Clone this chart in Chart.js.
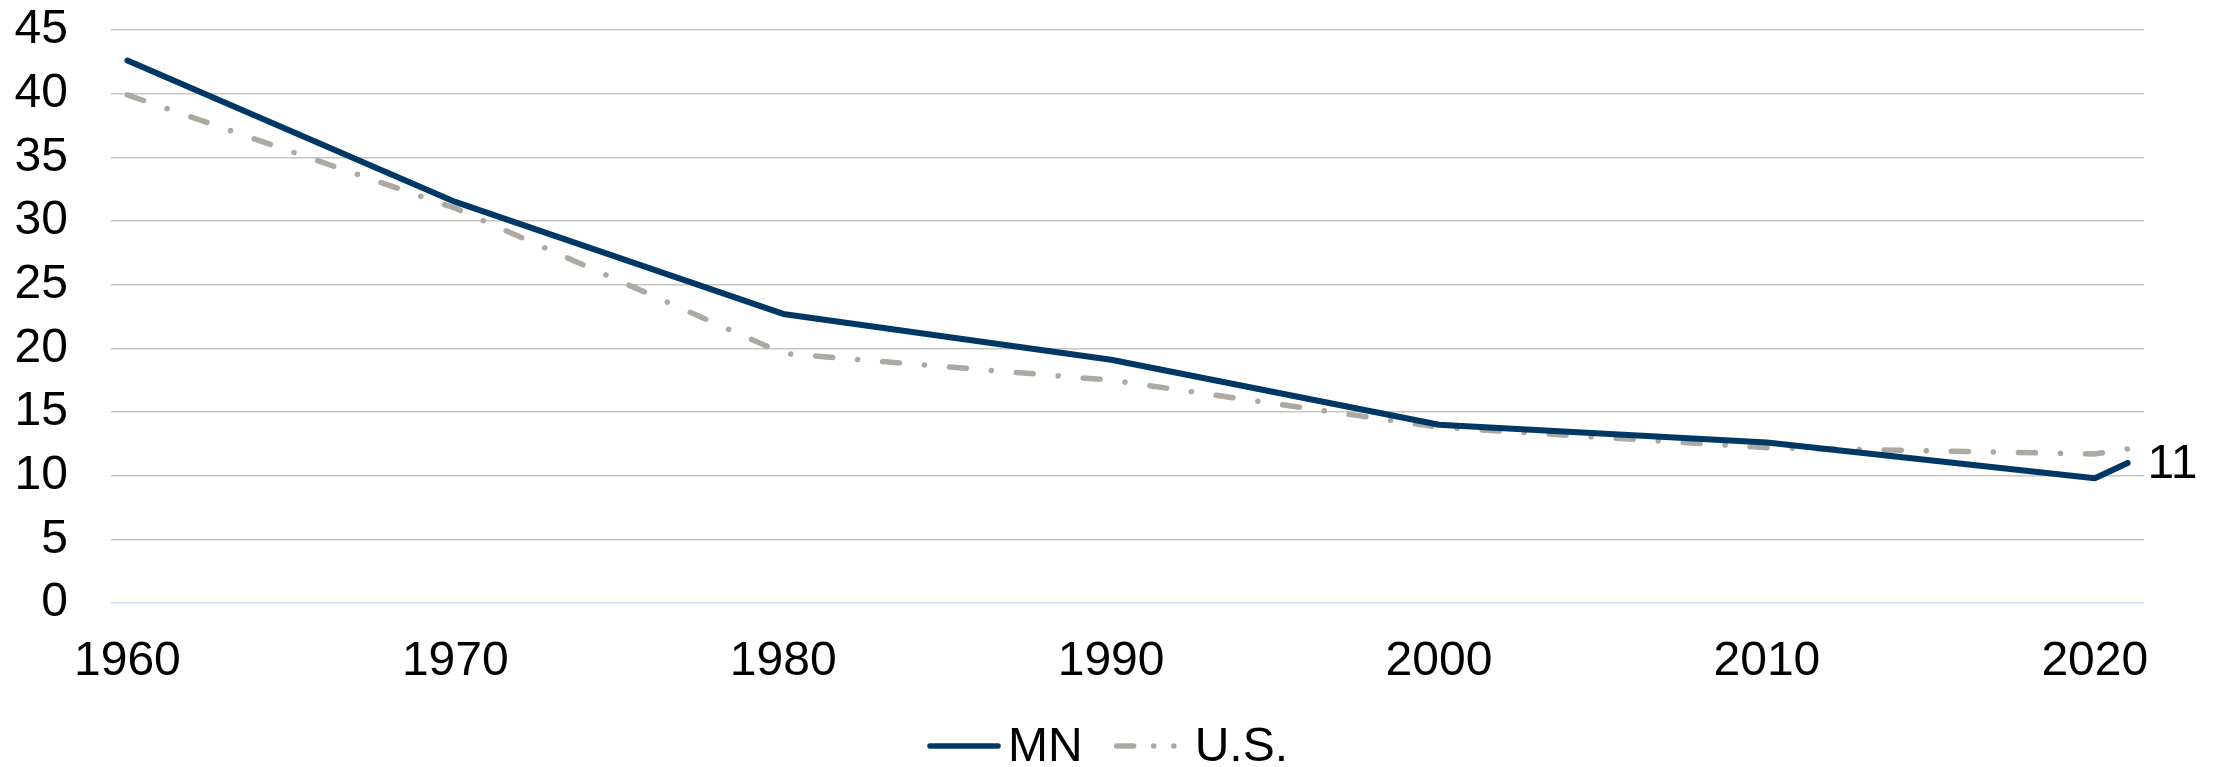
<!DOCTYPE html>
<html>
<head>
<meta charset="utf-8">
<script src="https://cdn.jsdelivr.net/npm/chart.js@4.4.0/dist/chart.umd.min.js"></script>
<style>
  html, body { margin: 0; padding: 0; background: #fff; }
  #wrap { width: 2224px; height: 767px; position: relative; }
</style>
</head>
<body>
<div id="wrap"><canvas id="chart"></canvas></div>
<script>
// Data
const years = [1960, 1970, 1980, 1990, 2000, 2010, 2020, 2021];
const mnValues = [42.6, 31.5, 22.7, 19.1, 14.0, 12.6, 9.8, 11.0];
const usValues = [39.9, 31.0, 19.6, 17.5, 13.8, 12.2, 11.7, 12.1];
const xTicks = [1960, 1970, 1980, 1990, 2000, 2010, 2020];
const yTicks = [0, 5, 10, 15, 20, 25, 30, 35, 40, 45];
const seriesNames = ['MN', 'U.S.'];

const FONT = 'Liberation Sans, Arial, sans-serif';
const FONT_SIZE = 48;
const NAVY = '#003865';
const GREY = '#ABA9A1';
const usDash = [17, 25, 0.1, 25];

// Label for the last MN point ("11")
const endLabel = {
  id: 'endLabel',
  afterDatasetsDraw(chart) {
    const { ctx, scales: { x, y } } = chart;
    const i = years.length - 1;
    const px = x.getPixelForValue(years[i]);
    const py = y.getPixelForValue(mnValues[i]);
    ctx.save();
    ctx.font = FONT_SIZE + 'px ' + FONT;
    ctx.fillStyle = '#000';
    ctx.textAlign = 'left';
    ctx.textBaseline = 'middle';
    ctx.fillText(Math.round(mnValues[i]).toString(), px + 20, py + 2);
    ctx.restore();
  },
};

// Legend drawn by hand so the spacing matches (short gap line->text, wider gap between items)
const bottomLegend = {
  id: 'bottomLegend',
  afterDraw(chart) {
    const { ctx, width, height } = chart;
    const lineW = 72, gapText = 8, gapItem = 32;
    ctx.save();
    ctx.font = FONT_SIZE + 'px ' + FONT;
    const widths = seriesNames.map(t => ctx.measureText(t).width);
    const total = widths.reduce((a, b) => a + b, 0) + seriesNames.length * (lineW + gapText) + gapItem;
    let x = width / 2 - total / 2 - 4;
    const lineY = height - 21;
    const textY = height - 6;
    chart.data.datasets.forEach((ds, i) => {
      ctx.strokeStyle = ds.borderColor;
      ctx.lineWidth = 5.5;
      ctx.lineCap = 'round';
      ctx.setLineDash(i === 1 ? [17, 20, 0.1, 20, 0.1, 20] : []);
      ctx.beginPath();
      ctx.moveTo(x + 2, lineY);
      ctx.lineTo(x + lineW - 2, lineY);
      ctx.stroke();
      ctx.setLineDash([]);
      ctx.fillStyle = '#000';
      ctx.textBaseline = 'alphabetic';
      ctx.textAlign = 'left';
      ctx.fillText(seriesNames[i], x + lineW + gapText, textY);
      x += lineW + gapText + widths[i] + gapItem;
    });
    ctx.restore();
  },
};

const ctx = document.getElementById('chart');
new Chart(ctx, {
  type: 'line',
  data: {
    datasets: [
      {
        label: seriesNames[0],
        data: years.map((yr, i) => ({ x: yr, y: mnValues[i] })),
        borderColor: NAVY,
        backgroundColor: NAVY,
        borderWidth: 6,
        pointRadius: 0,
        tension: 0,
        borderCapStyle: 'round',
        borderJoinStyle: 'round',
      },
      {
        label: seriesNames[1],
        data: years.map((yr, i) => ({ x: yr, y: usValues[i] })),
        borderColor: GREY,
        backgroundColor: GREY,
        borderWidth: 5.5,
        borderDash: usDash,
        borderCapStyle: 'round',
        pointRadius: 0,
        tension: 0,
      },
    ],
  },
  options: {
    responsive: true,
    maintainAspectRatio: false,
    animation: false,
    layout: {
      padding: { top: 30, right: 80, bottom: 84, left: 0 },
    },
    scales: {
      x: {
        type: 'linear',
        min: 1959.5,
        max: 2021.5,
        afterBuildTicks: (scale) => { scale.ticks = xTicks.map(v => ({ value: v })); },
        afterFit: (scale) => { scale.height = 80; },
        grid: { display: false },
        border: { display: false },
        ticks: {
          font: { family: FONT, size: FONT_SIZE },
          color: '#000',
          padding: 22,
          maxRotation: 0,
          autoSkip: false,
          callback: (v) => String(v),
        },
      },
      y: {
        min: 0,
        max: 45,
        afterBuildTicks: (scale) => { scale.ticks = yTicks.map(v => ({ value: v })); },
        afterFit: (scale) => {
          scale.width = 111;
          // tick padding is meant as horizontal gap only
          scale.paddingTop = 20;
          scale.paddingBottom = 20;
        },
        grid: {
          drawTicks: false,
          lineWidth: 1.6,
          color: (c) => (c.tick && c.tick.value === 0 ? '#C7E0F6' : '#C6C6C2'),
        },
        border: { display: false },
        ticks: {
          font: { family: FONT, size: FONT_SIZE },
          color: '#000',
          padding: 43,
          autoSkip: false,
        },
      },
    },
    plugins: {
      legend: { display: false },
      tooltip: { enabled: false },
    },
  },
  plugins: [endLabel, bottomLegend],
});
</script>
</body>
</html>
